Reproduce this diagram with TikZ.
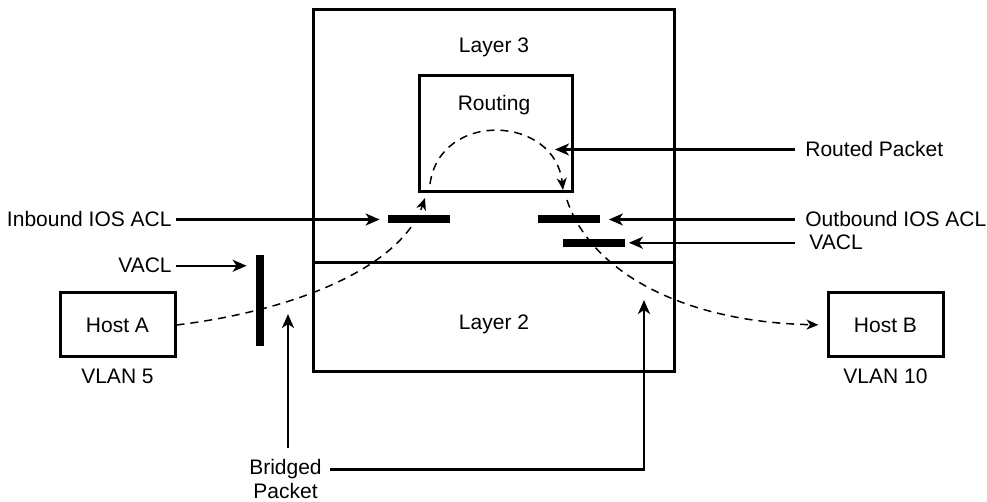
\documentclass[tikz,border=0pt]{standalone}
\usepackage{fontspec}
\setmainfont{Liberation Sans}
\usetikzlibrary{arrows.meta}

\tikzset{
  box/.style = {draw, line width = 1.5pt},
  bar/.style = {fill = black, inner sep = 0pt, minimum width = 31pt, minimum height = 4pt},
  lbl/.style = {inner sep = 2pt, font = \fontsize{10.5}{12.5}\selectfont},
  arr/.style = {line width = 1.1pt, -{Stealth[length = 7pt, width = 6pt, inset = 2pt]}},
  pkt/.style = {dash pattern = on 4pt off 3pt, line width = .75pt,
    -{Stealth[length = 6pt, width = 5pt, inset = 1.8pt]}}
}

\begin{document}
\begin{tikzpicture}
  [x = .5pt, y = -.5pt]
  \useasboundingbox (0,0) rectangle (987,502);
  % switch: layer 3 on top of layer 2, routing inside
  \draw[box] (313,10) rectangle (674,372);
  \draw[box] (313,263) -- (674,263);
  \draw[box] (419,76) rectangle (572,192);
  \node[lbl, anchor = base] (layer3) at (494,53) {Layer 3};
  \node[lbl, anchor = base] (routing) at (494,111) {Routing};
  \node[lbl, anchor = base] (layer2) at (494,330) {Layer 2};
  % the two hosts
  \node[box, lbl, minimum width = 57.5pt, minimum height = 32pt] (hosta) at (117.5,325) {Host A};
  \node[box, lbl, minimum width = 57.5pt, minimum height = 32pt] (hostb) at (885.5,325) {Host B};
  \node[lbl, anchor = base] (vlan5) at (117.5,384) {VLAN 5};
  \node[lbl, anchor = base] (vlan10) at (885.5,384) {VLAN 10};
  % filters
  \foreach \n/\x/\y in {inacl/419/219, outacl/568.5/219, vaclb/593.5/243}{
    \node[bar] (\n) at (\x,\y) {};
  }
  \node[bar, minimum width = 4pt, minimum height = 45.5pt] (vacla) at (260,300.5) {};
  % labels and pointers
  \node[lbl, anchor = base east] (inlbl) at (176,227) {Inbound IOS ACL};
  \node[lbl, anchor = base east] (valbl) at (176,273) {VACL};
  \node[lbl, anchor = base west] (rtlbl) at (801,157) {Routed Packet};
  \node[lbl, anchor = base west] (outlbl) at (801,227) {Outbound IOS ACL};
  \node[lbl, anchor = base west] (vblbl) at (805,250) {VACL};
  \node[lbl, anchor = base] (bridged) at (285.5,475) {Bridged};
  \node[lbl, anchor = base] (packet) at (285.5,499) {Packet};
  \coordinate (rttip) at (555,150);
  \coordinate (bfoot) at (288,448);
  \coordinate (btipa) at (288,314);
  \coordinate (btipb) at (644,300);
  \draw[arr, shorten >= 4pt] (inlbl.east) -- (inlbl.east -| inacl.west);
  \draw[arr, shorten >= 4.5pt] (valbl.east) -- (valbl.east -| vacla.west);
  \draw[arr, shorten <= 3pt] (rtlbl.west) -- (rtlbl.west -| rttip);
  \draw[arr, shorten <= 3pt, shorten >= 4.5pt] (outlbl.west) -- (outlbl.west -| outacl.east);
  \draw[arr, shorten <= 5pt, shorten >= 2pt] (vblbl.west) -- (vblbl.west -| vaclb.east);
  \draw[arr] (bfoot) -- (btipa);
  \draw[arr, shorten <= 2pt] (bridged.east) -- (bridged.east -| btipb) -- (btipb);
  % packet path
  \coordinate (intop) at (425,198);
  \coordinate (rtin) at (430,184);
  \coordinate (rtout) at (563,190);
  \coordinate (outbot) at (567,200);
  \draw[pkt] (hosta.east) .. controls (300,310) and (402,265) .. (intop);
  \draw[pkt] (rtin) .. controls (440,110) and (555,115) .. (rtout);
  \draw[pkt, shorten >= 4pt] (outbot) .. controls (590,270) and (680,322) .. (hostb.west);
\end{tikzpicture}
\end{document}
